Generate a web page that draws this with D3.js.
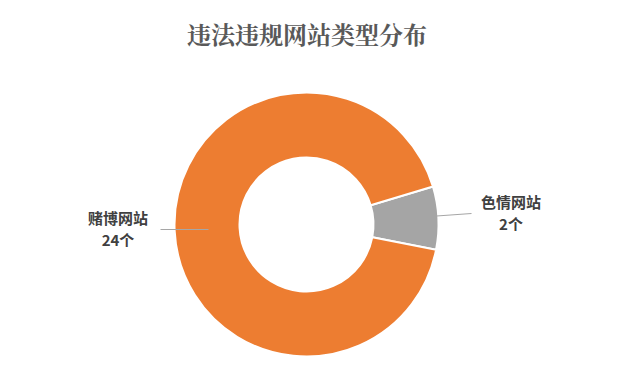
<!DOCTYPE html>
<html>
<head>
<meta charset="utf-8">
<script src="https://cdn.jsdelivr.net/npm/d3@7"></script>
<style>
  body { margin: 0; background: #fff; }
  svg { display: block; }
</style>
</head>
<body>
<div id="chart"></div>
<script>
// data
var categories = ["色情网站", "赌博网站"];
var values = [2, 24];
var units = ["2个", "24个"];
var colors = ["#A5A5A5", "#ED7D31"];

const width = 621, height = 373;
const cx = 306.5, cy = 224.5;
const outerR = 132, innerR = 67;

var svg = d3.select("#chart")
  .append("svg")
  .attr("width", width)
  .attr("height", height);

//title
svg.append("text")
  .attr("x", 307)
  .attr("y", 44)
  .attr("text-anchor", "middle")
  .attr("font-family", "'Noto Serif CJK SC', 'Noto Sans CJK SC', serif")
  .attr("font-weight", "bold")
  .attr("font-size", "24px")
  .attr("fill", "#595959")
  .text("违法违规网站类型分布");

var pie = d3.pie()
  .sort(null)
  .startAngle(73.3 * Math.PI / 180)
  .endAngle((73.3 + 360) * Math.PI / 180)
  .value(d => d);

var arc = d3.arc().innerRadius(innerR).outerRadius(outerR);

var g = svg.append("g").attr("transform", "translate(" + cx + "," + cy + ")");

var arcs = pie(values);

g.selectAll("path")
  .data(arcs)
  .enter()
  .append("path")
  .attr("d", arc)
  .attr("fill", (d, i) => colors[i])
  .attr("stroke", "#fff")
  .attr("stroke-width", 2);

//leader lines: start inside slice, end near the label
var lineStarts = [[123, -8], [-98, 5]];
var lineEnds = [[165, -11], [-146, 5]];
arcs.forEach(function (d, i) {
  g.append("line")
    .attr("x1", lineStarts[i][0])
    .attr("y1", lineStarts[i][1])
    .attr("x2", lineEnds[i][0])
    .attr("y2", lineEnds[i][1])
    .attr("stroke", "#A6A6A6")
    .attr("stroke-width", 1);
});

//labels, name on top and count below
var labelPos = [[511, 203], [118, 219]];
var labelGap = 22;
categories.forEach(function (c, i) {
  [c, units[i]].forEach(function (s, k) {
    svg.append("text")
      .attr("x", labelPos[i][0])
      .attr("y", labelPos[i][1] + k * labelGap)
      .attr("dy", "0.35em")
      .attr("text-anchor", "middle")
      .attr("font-family", "'Noto Sans CJK SC', sans-serif")
      .attr("font-weight", "bold")
      .attr("font-size", "15px")
      .attr("fill", "#404040")
      .text(s);
  });
});
</script>
</body>
</html>
